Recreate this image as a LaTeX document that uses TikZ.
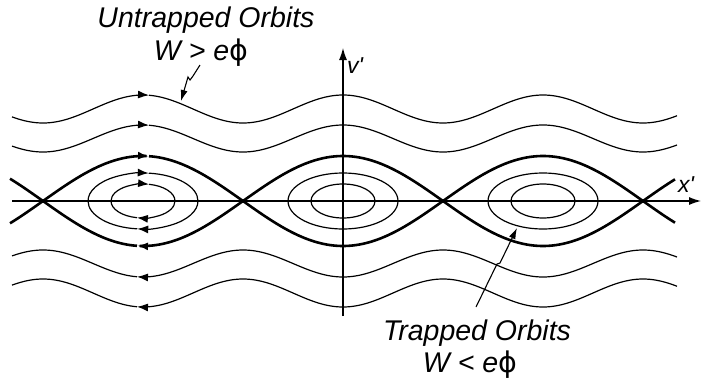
\documentclass[tikz,border=0pt]{standalone}
\usepackage{fontspec}
\setmainfont{Liberation Sans}
\newfontfamily\phifont{DejaVu Sans}
\usetikzlibrary{arrows.meta}
\tikzset{
  orbit/.style={line width=1.2pt, black},
  sepx/.style={line width=2.6pt, black},
  tip/.style={-{Latex[length=11pt,width=8pt]}},
  axis/.style={line width=1.1pt, -{Latex[length=12pt,width=8pt]}},
  ptr/.style={line width=1.1pt, -{Latex[length=11pt,width=7pt]}},
  lbl/.style={font=\fontsize{28.5}{30}\selectfont\itshape, inner sep=0pt},
  axlbl/.style={font=\fontsize{23}{24}\selectfont\itshape, inner sep=0pt},
}
\newcommand{\ephi}{e{\phifont\upshape ϕ}}

\begin{document}
\begin{tikzpicture}[x=1pt, y=-1pt]
\useasboundingbox (0,0) rectangle (702,383);
\def\yA{201}
% axes
\coordinate (xs) at (12,\yA);
\coordinate (xe) at (701,\yA);
\coordinate (vs) at (343,316);
\coordinate (ve) at (343,48);
\draw[axis] (xs) -- (xe);
\draw[axis] (vs) -- (ve);
\node[axlbl, anchor=base west] (vlbl) at (347,73) {v\textquotesingle};
\node[axlbl, anchor=base west] (xlbl) at (678,192) {x\textquotesingle};
% untrapped orbits (above and below)
\foreach \c/\a in {92/14, 62.5/13.5}
{
  \draw[orbit, tip] plot[domain=12:149, samples=60] (\x, {\yA-\c-\a*cos(1.8*(\x-143))});
  \draw[orbit] plot[domain=149:677, samples=200] (\x, {\yA-\c-\a*cos(1.8*(\x-143))});
  \draw[orbit, tip] plot[domain=677:137, samples=200] (\x, {\yA+\c+\a*cos(1.8*(\x-143))});
  \draw[orbit] plot[domain=137:12, samples=60] (\x, {\yA+\c+\a*cos(1.8*(\x-143))});
}
% separatrix
\draw[sepx, tip] plot[domain=10:149, samples=60] (\x, {\yA-45*cos(0.9*(\x-143))});
\draw[sepx] plot[domain=149:675, samples=200] (\x, {\yA-45*cos(0.9*(\x-143))});
\draw[sepx, tip] plot[domain=675:137, samples=200] (\x, {\yA+45*cos(0.9*(\x-143))});
\draw[sepx] plot[domain=137:10, samples=60] (\x, {\yA+45*cos(0.9*(\x-143))});
% trapped orbits
\foreach \rx/\ry/\ta in {32/17/79, 55/28/84}
{
  \draw[orbit, tip] (143-\rx,\yA) arc[start angle=180, end angle=360-\ta, x radius=\rx, y radius=\ry];
  \draw[orbit] ({143+\rx*cos(\ta)},{\yA-\ry*sin(\ta)}) arc[start angle=360-\ta, end angle=360, x radius=\rx, y radius=\ry];
  \draw[orbit, tip] (143+\rx,\yA) arc[start angle=0, end angle=180-\ta, x radius=\rx, y radius=\ry];
  \draw[orbit] ({143-\rx*cos(\ta)},{\yA+\ry*sin(\ta)}) arc[start angle=180-\ta, end angle=180, x radius=\rx, y radius=\ry];
  \draw[orbit] (343,\yA) ellipse[x radius=\rx, y radius=\ry];
  \draw[orbit] (543,\yA) ellipse[x radius=\rx, y radius=\ry];
}
% labels
\node[lbl, anchor=base] (untr) at (206,27) {Untrapped Orbits};
\node[lbl, anchor=base] (wgt) at (201,60) {W > \ephi};
\node[lbl, anchor=base] (trap) at (477,340) {Trapped Orbits};
\node[lbl, anchor=base] (wlt) at (470,372) {W < \ephi};
% pointers
\coordinate (pu) at (200,65);
\coordinate (pt) at (181,101);
\draw[ptr] (pu) -- (193,76) -- (190,80) -- (188,77) -- (pt);
\coordinate (pl) at (476,307);
\coordinate (ptl) at (517,228);
\draw[ptr] (pl) -- (497,264) -- (500,263) -- (ptl);
\end{tikzpicture}
\end{document}
